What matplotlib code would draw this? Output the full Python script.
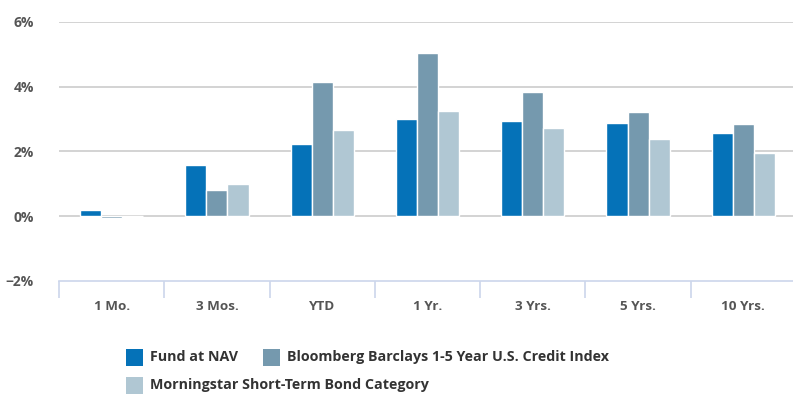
import matplotlib
matplotlib.use("Agg")
import matplotlib.pyplot as plt
import numpy as np

categories = ["1 Mo.", "3 Mos.", "YTD", "1 Yr.", "3 Yrs.", "5 Yrs.", "10 Yrs."]
fund_nav = [0.18, 1.57, 2.24, 2.99, 2.95, 2.87, 2.57]
bbg_credit = [-0.05, 0.82, 4.14, 5.02, 3.84, 3.20, 2.83]
ms_short_term = [0.01, 0.99, 2.66, 3.25, 2.71, 2.37, 1.95]
series_names = ["Fund at NAV",
                "Bloomberg Barclays 1-5 Year U.S. Credit Index",
                "Morningstar Short-Term Bond Category"]
y_ticks = [-2, 0, 2, 4, 6]
y_tick_labels = ["\u22122%", "0%", "2%", "4%", "6%"]

colors = ["#0572b8", "#7599ae", "#b0c7d3"]
font = ["Open Sans", "DejaVu Sans"]

W, H = 793, 394
fig = plt.figure(figsize=(W / 100, H / 100), dpi=100)
left, right = 59, 796
bottom, top = 281, 21.7
ax = fig.add_axes([left / W, (H - bottom) / H, (right - left) / W, (bottom - top) / H])

x = np.arange(len(categories))
bw = 0.2
for i, (vals, c) in enumerate(zip([fund_nav, bbg_credit, ms_short_term], colors)):
    ax.bar(x + (i - 1) * bw, vals, width=bw, color=c, edgecolor="white",
           linewidth=1.0, zorder=3, label=series_names[i])

ax.set_xlim(-0.5, len(categories) - 0.5)
ax.set_ylim(-2, 6)

for yv in [0, 2, 4, 6]:
    ax.axhline(yv, color="#cccccc", linewidth=1.2, zorder=1)

for s in ["top", "right", "left"]:
    ax.spines[s].set_visible(False)
ax.spines["bottom"].set_color("#ccd6eb")
ax.spines["bottom"].set_linewidth(1.2)

ax.set_yticks(y_ticks)
ax.set_yticklabels(y_tick_labels, fontfamily=font, fontweight="bold",
                   fontsize=10, color="#555555")
ax.tick_params(axis="y", length=0, pad=18)

ax.set_xticks(np.arange(len(categories) + 1) - 0.5, minor=False)
ax.set_xticklabels([])
ax.tick_params(axis="x", which="major", length=12, color="#ccd6eb", width=1.2, direction="out")
ax.set_xticks(x, minor=True)
ax.set_xticklabels(categories, minor=True, fontfamily=font, fontweight="bold",
                   fontsize=9.7, color="#555555")
ax.tick_params(axis="x", which="minor", length=0, pad=14)

# legend laid out in two rows below the chart
legend_items = [(126, 357, 0), (263, 357, 1), (126, 385, 2)]
for px, py, idx in legend_items:
    sq = plt.Rectangle((px / W, (H - py - 9) / H), 17 / W, 17 / H,
                       transform=fig.transFigure, color=colors[idx], linewidth=0)
    fig.add_artist(sq)
    fig.text((px + 24) / W, (H - py) / H, series_names[idx], fontfamily=font,
             fontweight="bold", fontsize=10.3, color="#333333", va="center", ha="left")

fig.savefig("out.png", dpi=100)
